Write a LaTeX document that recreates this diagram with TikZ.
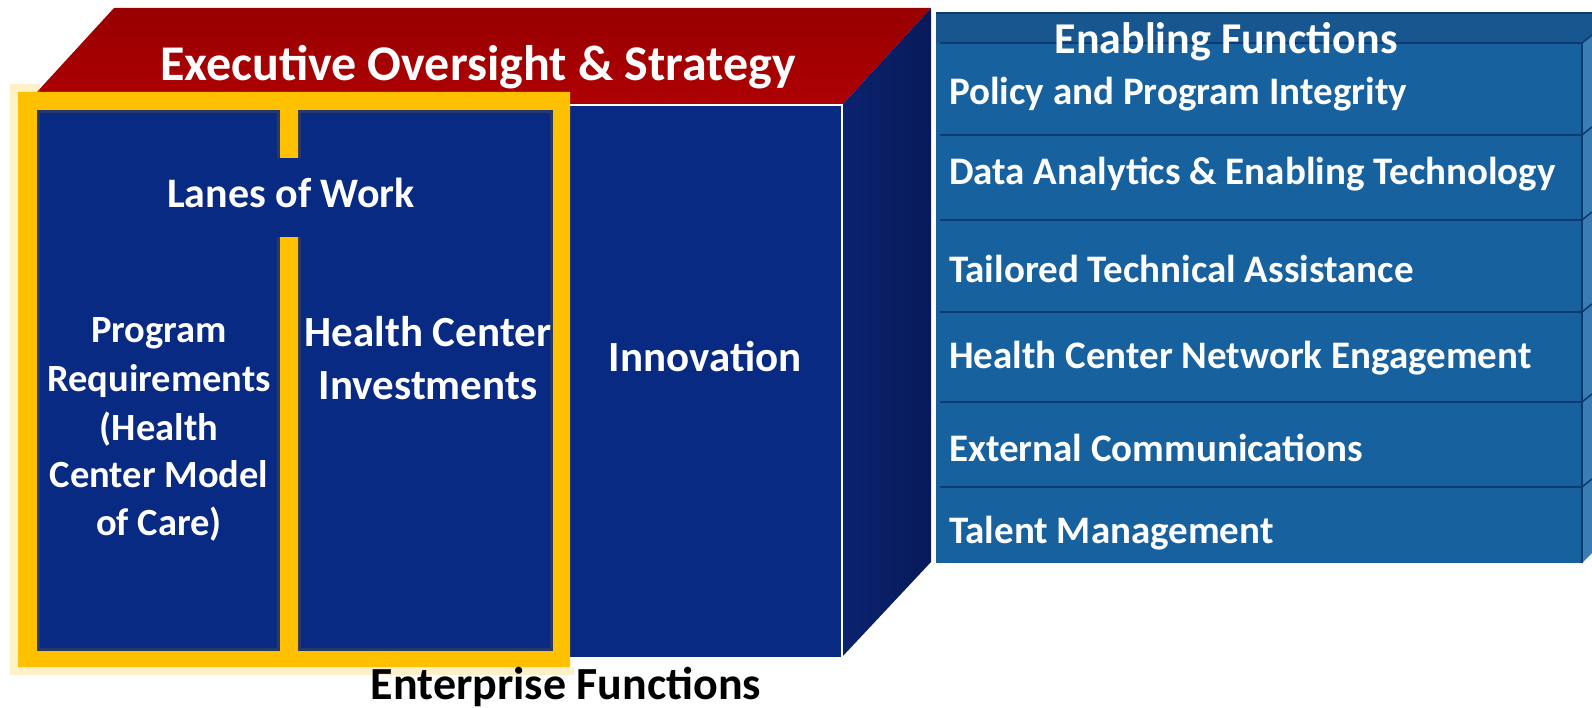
\documentclass[tikz,border=0pt]{standalone}
\usepackage{fontspec}
\setmainfont{Carlito}
\definecolor{redtopA}{HTML}{980000}
\definecolor{redtopB}{HTML}{AE0004}
\definecolor{navy}{HTML}{092A82}
\definecolor{sideA}{HTML}{0A2270}
\definecolor{sideB}{HTML}{081A58}
\definecolor{rowblue}{HTML}{17619F}
\definecolor{headblue}{HTML}{185690}
\definecolor{stripblue}{HTML}{3A7CB4}
\definecolor{sepline}{HTML}{0E3A70}
\definecolor{yel}{HTML}{FFC000}
\begin{document}
\begin{tikzpicture}[x=1pt,y=-1pt,
  wtxt/.style={text=white,inner sep=0pt},
  f39/.style={font=\fontsize{39}{47}\selectfont\bfseries},
  f38/.style={font=\fontsize{38.5}{46}\selectfont\bfseries},
  f43/.style={font=\fontsize{43}{52}\selectfont\bfseries},
  sep/.style={draw=sepline,line width=1.6pt},
  shadowline/.style={draw=black!70,opacity=.45,line width=2.5pt}]
\useasboundingbox (0,0) rectangle (1592,708);
\fill[white] (0,0) rectangle (1592,708);

% --- cube: top (red), side, front
\shade[top color=redtopA,bottom color=redtopB] (25,105) -- (114,8) -- (931,8) -- (842,105) -- cycle;
\shade[left color=sideA,right color=sideB] (842,105) -- (931,8) -- (931,562) -- (842,657) -- cycle;
\fill[navy] (25,105) rectangle (842,657);
\draw[white,line width=1.2pt] (25,105) -- (842,105) -- (842,657);

% --- enabling functions panel
\fill[rowblue] (936,13) rectangle (1582,563);
\fill[headblue] (936,13) rectangle (1582,43);
\fill[stripblue] (1582,43) -- (1592,35) -- (1592,553) -- (1582,563) -- cycle;
\fill[headblue] (1582,13) -- (1592,13) -- (1592,35) -- (1582,43) -- cycle;
\draw[sepline,line width=2pt] (936,13) -- (1592,13);
\foreach \yy in {43,135,220,312,402,487}{
  \draw[sep] (940,\yy) -- (1582,\yy) -- (1592,\yy-8);
}
\draw[sepline,line width=1.2pt] (1582,43) -- (1582,563);

\node[wtxt,font=\fontsize{44}{52}\selectfont\bfseries,anchor=base] (ef) at (1226,54) {Enabling Functions};
\node[wtxt,f39,anchor=base west] (e1) at (949,105) {Policy and Program Integrity};
\node[wtxt,f39,anchor=base west] (e2) at (949,185) {Data Analytics \& Enabling Technology};
\node[wtxt,f39,anchor=base west] (e3) at (949,283) {Tailored Technical Assistance};
\node[wtxt,f39,anchor=base west] (e4) at (949,368) {Health Center Network Engagement};
\node[wtxt,f39,anchor=base west] (e5) at (949,461) {External Communications};
\node[wtxt,f39,anchor=base west] (e6) at (949,543) {Talent Management};

% --- top label
\node[wtxt,font=\fontsize{50}{60}\selectfont\bfseries,anchor=base] (exec) at (478,81) {Executive Oversight \& Strategy};

% --- lane texts
\node[wtxt,f38,anchor=base] (pr1) at (159,342) {Program};
\node[wtxt,f38,anchor=base] (pr2) at (159,391) {Requirements};
\node[wtxt,f38,anchor=base] (pr3) at (159,440) {(Health};
\node[wtxt,f38,anchor=base] (pr4) at (159,487) {Center Model};
\node[wtxt,f38,anchor=base] (pr5) at (159,535) {of Care)};
\node[wtxt,f43,anchor=base] (hc1) at (428,347) {Health Center};
\node[wtxt,f43,anchor=base] (hc2) at (428,399) {Investments};
\node[wtxt,f43,anchor=base] (inn) at (705,371) {Innovation};

% --- yellow lanes frame
\draw[yel,opacity=.22,line width=8pt] (574,671) -- (14,671) -- (14,88) -- (40,88);
\fill[yel,even odd rule] (18,92) rectangle (570,667)
   (37,110) rectangle (280,651) (298,110) rectangle (553,651);
\draw[shadowline] (38.5,111.5) rectangle (278.5,649.5);
\draw[shadowline] (299.5,111.5) rectangle (551.5,649.5);

% --- lanes of work label
\fill[navy] (160,158) rectangle (425,237);
\node[wtxt,font=\fontsize{42}{50}\selectfont\bfseries,anchor=base] (low) at (291,208) {Lanes of Work};

% --- bottom caption
\node[text=black,inner sep=0pt,font=\fontsize{46}{54}\selectfont\bfseries,anchor=base] (ent) at (566,699) {Enterprise Functions};
\end{tikzpicture}
\end{document}
